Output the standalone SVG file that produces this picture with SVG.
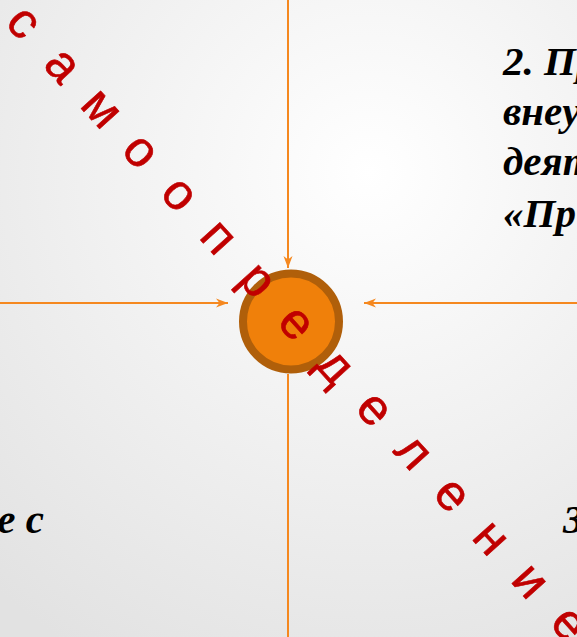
<svg xmlns="http://www.w3.org/2000/svg" width="577" height="637" viewBox="0 0 577 637">
<defs>
<radialGradient id="bg" gradientUnits="userSpaceOnUse" cx="370" cy="172" r="560">
<stop offset="0" stop-color="#ffffff"/>
<stop offset="1" stop-color="#e2e2e2"/>
</radialGradient>
<marker id="arr" viewBox="0 0 12 10" refX="12" refY="5" markerWidth="12" markerHeight="10" markerUnits="userSpaceOnUse" orient="auto">
<path d="M0,0.5 L12,5 L0,9.5 L3.5,5 z" fill="#f5881f"/>
</marker>
<style>
.conn{stroke:#f5881f;stroke-width:2;fill:none}
.lbl{font-family:"Liberation Serif","Times New Roman",serif;font-weight:bold;font-style:italic;font-size:41px;fill:#000}
.diag{font-family:"Liberation Sans",Arial,sans-serif;font-size:50px;fill:#c00000;stroke:#c00000;stroke-width:0.6}
</style>
</defs>
<rect width="577" height="637" fill="url(#bg)"/>
<g id="connectors">
<line class="conn" x1="288" y1="0" x2="288" y2="268" marker-end="url(#arr)"/>
<line class="conn" x1="0" y1="303" x2="228" y2="303" marker-end="url(#arr)"/>
<line class="conn" x1="577" y1="303" x2="364" y2="303" marker-end="url(#arr)"/>
<line class="conn" x1="288" y1="374" x2="288" y2="637"/>
</g>
<g id="center">
<circle cx="291" cy="321.5" r="48" fill="#f0800a" stroke="#b05f0a" stroke-width="8"/>
</g>
<g id="text-top-right">
<text class="lbl" x="503" y="75">2. Пр</text>
<text class="lbl" x="503" y="125">внеу</text>
<text class="lbl" x="503" y="175">деят</text>
<text class="lbl" x="503" y="227">«Пр</text>
</g>
<g id="text-bottom-left">
<text class="lbl" x="44" y="533" text-anchor="end">е с</text>
</g>
<g id="text-bottom-right">
<text class="lbl" x="563" y="533">3</text>
</g>
<g id="diagonal">
<text class="diag" transform="translate(22,24) rotate(47.8)" text-anchor="middle" y="13" x="0 58 116 174 232 290 348 406 464 522 580 638 696 754 812">самоопределение</text>
</g>
</svg>
